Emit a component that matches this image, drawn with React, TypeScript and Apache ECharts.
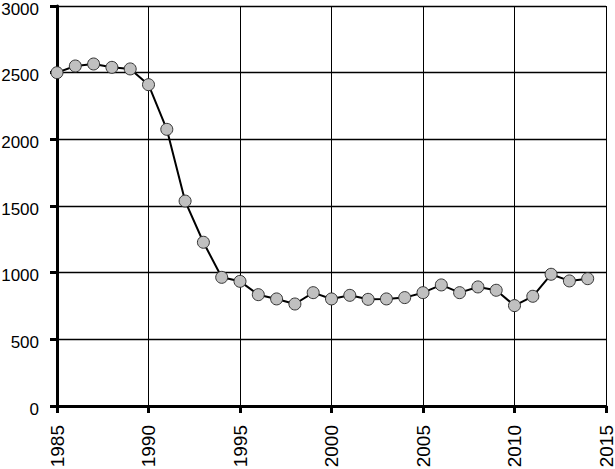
import React, { useEffect, useRef } from "react";
import * as echarts from "echarts";

const years = [1985, 1986, 1987, 1988, 1989, 1990, 1991, 1992, 1993, 1994, 1995, 1996, 1997, 1998, 1999, 2000, 2001, 2002, 2003, 2004, 2005, 2006, 2007, 2008, 2009, 2010, 2011, 2012, 2013, 2014];
const values = [2500, 2550, 2565, 2540, 2528, 2410, 2075, 1537, 1228, 965, 935, 835, 803, 765, 850, 803, 830, 800, 803, 813, 850, 908, 850, 893, 868, 753, 823, 988, 938, 955];

const xMin = 1985;
const xMax = 2015;
const xStep = 5;
const yMin = 0;
const yMax = 3000;
const yStep = 500;

export default function App() {
  const ref = useRef<HTMLDivElement>(null);
  useEffect(() => {
    if (!ref.current) return;
    const chart = echarts.init(ref.current, undefined, { renderer: "svg" });
    const font = "'Liberation Sans', Arial, sans-serif";
    chart.setOption({
      animation: false,
      backgroundColor: "#ffffff",
      grid: { left: 57, right: 9, top: 6, bottom: 63, containLabel: false, outerBoundsMode: "none" },
      xAxis: {
        type: "value",
        min: xMin,
        max: xMax,
        interval: xStep,
        axisLine: { show: true, onZero: false, lineStyle: { color: "#000", width: 3 } },
        axisTick: { show: true, length: 7, lineStyle: { color: "#000", width: 3 } },
        axisLabel: { rotate: 90, margin: 19, color: "#000", fontSize: 19, fontFamily: font, formatter: (v: number) => String(v) },
        splitLine: { show: true, lineStyle: { color: "#000", width: 1 } },
      },
      yAxis: {
        type: "value",
        min: yMin,
        max: yMax,
        interval: yStep,
        axisLine: { show: true, lineStyle: { color: "#000", width: 3 } },
        axisTick: { show: true, length: 7, lineStyle: { color: "#000", width: 3 } },
        axisLabel: {
          margin: 18,
          color: "#000",
          fontSize: 17,
          fontFamily: font,
          formatter: (v: number) => "{t|" + String(v) + "}",
          rich: { t: { fontSize: 17, fontFamily: font, color: "#000", lineHeight: 17, padding: [6, 0, 0, 0] } },
        },
        splitLine: { show: true, lineStyle: { color: "#000", width: 1.3 } },
      },
      series: [
        {
          type: "line",
          data: years.map((y, i) => [y, values[i]]),
          symbol: "circle",
          symbolSize: 12,
          showAllSymbol: true,
          lineStyle: { color: "#000", width: 2 },
          itemStyle: { color: "#c0c0c0", borderColor: "#333", borderWidth: 1 },
        },
      ],
    });
    return () => chart.dispose();
  }, []);
  return <div ref={ref} style={{ position: "fixed", left: 0, top: 0, width: 615, height: 469 }} />;
}
